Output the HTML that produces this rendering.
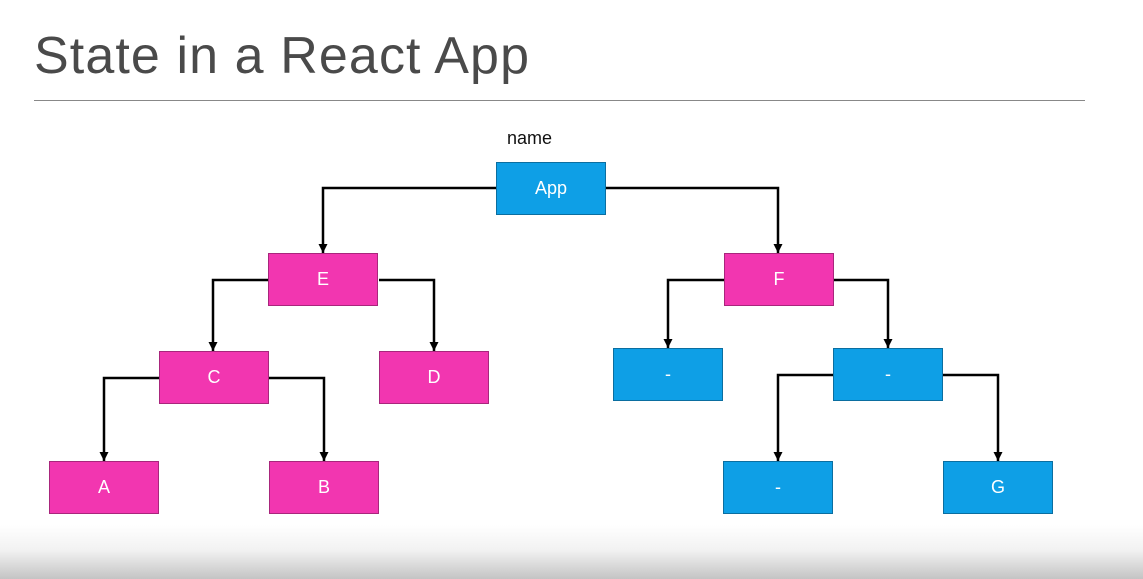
<!DOCTYPE html>
<html><head><meta charset="utf-8"><style>
html,body{margin:0;padding:0}
body{width:1143px;height:579px;position:relative;overflow:hidden;background:linear-gradient(to bottom,#fff 0,#fff 525px,#f2f2f2 550px,#c4c4c4 579px);font-family:"Liberation Sans",sans-serif}
.t{position:absolute;left:34px;top:26px;font-size:52px;color:#4a4a4a;font-weight:300;letter-spacing:1.1px}
.hr{position:absolute;left:34px;top:100px;width:1051px;height:1px;background:#888}
.b{position:absolute;width:108px;height:51px;color:#fff;font-size:18px;display:flex;align-items:center;justify-content:center}
.p{background:#f236b0;border:1px solid #a8267c}
.c{background:#0e9fe6;border:1px solid #0b6ea0}
</style></head><body>
<div class="t">State in a React App</div>
<div class="hr"></div>
<div style="position:absolute;left:507px;top:128px;font-size:18px;color:#111">name</div>
<svg width="1143" height="579" style="position:absolute;left:0;top:0">
<defs>
<marker id="m" viewBox="0 0 10 10" refX="10" refY="5" markerWidth="9" markerHeight="9" orient="auto" markerUnits="userSpaceOnUse"><path d="M0,0 L10,5 L0,10z" fill="#000"/></marker></defs>
<g stroke="#000" stroke-width="2.5" fill="none" marker-end="url(#m)">
<path d="M496 188 H323 V253"/><path d="M606 188 H778 V253"/>
<path d="M268 280 H213 V351"/><path d="M379 280 H434 V351"/>
<path d="M159 378 H104 V461"/><path d="M269 378 H324 V461"/>
<path d="M724 280 H668 V348"/><path d="M833 280 H888 V348"/>
<path d="M833 375 H778 V461"/><path d="M943 375 H998 V461"/>
</g></svg>
<div class="b c" style="left:496px;top:162px">App</div>
<div class="b p" style="left:268px;top:253px">E</div>
<div class="b p" style="left:724px;top:253px">F</div>
<div class="b p" style="left:159px;top:351px">C</div>
<div class="b p" style="left:379px;top:351px">D</div>
<div class="b c" style="left:613px;top:348px">-</div>
<div class="b c" style="left:833px;top:348px">-</div>
<div class="b p" style="left:49px;top:461px">A</div>
<div class="b p" style="left:269px;top:461px">B</div>
<div class="b c" style="left:723px;top:461px">-</div>
<div class="b c" style="left:943px;top:461px">G</div>
</body></html>
